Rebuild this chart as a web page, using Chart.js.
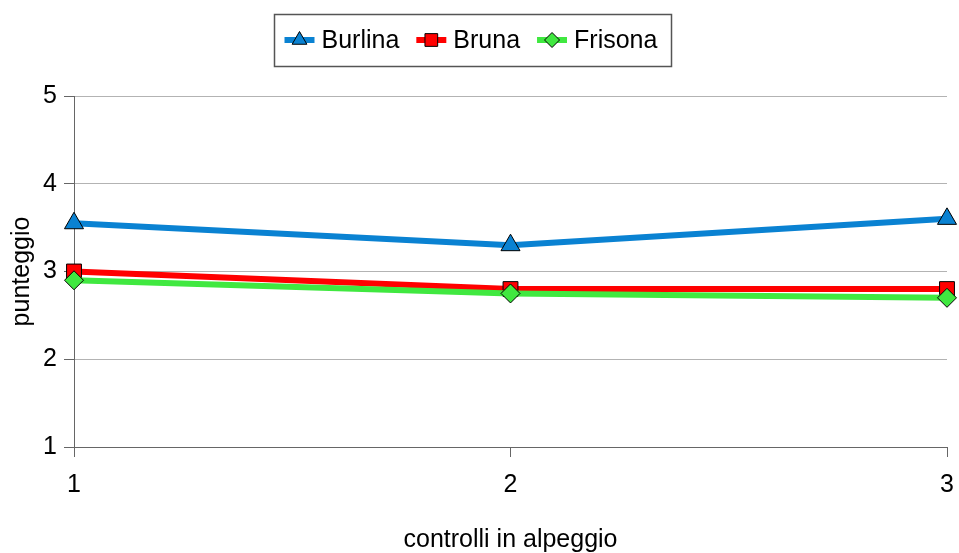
<!DOCTYPE html>
<html>
<head>
<meta charset="utf-8">
<script src="https://cdn.jsdelivr.net/npm/chart.js@4/dist/chart.umd.min.js"></script>
<style>
  html, body { margin: 0; padding: 0; background: #fff; }
  #wrap { width: 959px; height: 553px; }
</style>
</head>
<body>
<div id="wrap"><canvas id="chartPunteggi" width="959" height="553"></canvas></div>
<script>
const controlli = ['1', '2', '3']
const burlina = [3.55, 3.3, 3.6]
const bruna = [3.0, 2.8, 2.8]
const frisona = [2.9, 2.75, 2.7]
const yTicks = [1, 2, 3, 4, 5]

const FONT = '"Liberation Sans", Arial, sans-serif'

// legend drawn as a framed box with line + marker, like the office chart
const legendBox = {
    id: 'legendBox',
    afterDraw(chart) {
        const ctx = chart.ctx
        const lineLen = 30, gapText = 7, gapItem = 17, padL = 10, padR = 14
        const cy = 40, top = 14, h = 52, centerX = 472
        ctx.save()
        ctx.font = '25px ' + FONT
        const items = chart.data.datasets.map(ds => ({ ds, w: ctx.measureText(ds.label).width }))
        let total = padL + padR + gapItem * (items.length - 1)
        items.forEach(it => total += lineLen + gapText + it.w)
        const left = Math.round(centerX - total / 2) + 0.5

        ctx.strokeStyle = '#555'
        ctx.lineWidth = 1.5
        ctx.strokeRect(left, top + 0.5, Math.round(total), h)

        let x = left + padL
        items.forEach(it => {
            const ds = it.ds
            ctx.strokeStyle = ds.borderColor
            ctx.lineWidth = 6
            ctx.beginPath()
            ctx.moveTo(x, cy)
            ctx.lineTo(x + lineLen, cy)
            ctx.stroke()

            ctx.fillStyle = ds.pointBackgroundColor
            ctx.strokeStyle = '#000'
            ctx.lineWidth = 1
            Chart.helpers.drawPoint(ctx, {
                pointStyle: ds.pointStyle,
                radius: ds.legendRadius,
                rotation: 0,
                borderWidth: 1
            }, x + lineLen / 2, cy)

            ctx.fillStyle = '#000'
            ctx.textBaseline = 'middle'
            ctx.textAlign = 'left'
            ctx.fillText(ds.label, x + lineLen + gapText, cy + 1)
            x += lineLen + gapText + it.w + gapItem
        })
        ctx.restore()
    }
}

const serie = (label, data, color, style, radius, legendRadius, order) => ({
    label,
    data,
    order,
    borderColor: color,
    backgroundColor: color,
    borderWidth: 6,
    tension: 0,
    pointStyle: style,
    pointRadius: radius,
    pointHoverRadius: radius,
    pointBackgroundColor: color,
    pointBorderColor: '#000',
    pointBorderWidth: 1,
    legendRadius
})

const context = document.getElementById('chartPunteggi').getContext('2d')

const chartPunteggi = new Chart(context, {
    type: 'line',
    data: {
        labels: controlli,
        datasets: [
            serie('Burlina', burlina, '#0a82d2', 'triangle', 11, 8.5, 3),
            serie('Bruna', bruna, '#ff0000', 'rect', 10.5, 9, 2),
            serie('Frisona', frisona, '#40e840', 'rectRot', 9.5, 7.5, 1)
        ]
    },
    options: {
        responsive: false,
        animation: false,
        layout: { padding: { top: 96, left: 10, right: 1, bottom: 0 } },
        plugins: {
            legend: { display: false },
            tooltip: { enabled: false }
        },
        scales: {
            x: {
                type: 'category',
                offset: false,
                grid: {
                    drawOnChartArea: false,
                    tickLength: 10,
                    tickColor: '#666',
                    lineWidth: 1
                },
                border: { color: '#666', width: 1 },
                ticks: {
                    color: '#000',
                    padding: 13,
                    font: { family: FONT, size: 25 },
                    maxRotation: 0
                },
                title: {
                    display: true,
                    text: 'controlli in alpeggio',
                    color: '#000',
                    padding: { top: 0, bottom: 0 },
                    font: { family: FONT, size: 25, lineHeight: 1 }
                },
                afterFit: scale => {
                    scale.height = 106
                    scale.paddingRight = 11
                }
            },
            y: {
                min: 1,
                max: 5,
                afterBuildTicks: scale => { scale.ticks = yTicks.map(v => ({ value: v })) },
                grid: {
                    color: '#b3b3b3',
                    tickColor: '#666',
                    tickLength: 10,
                    lineWidth: 1
                },
                border: { color: '#666', width: 1 },
                ticks: {
                    color: '#000',
                    padding: 7,
                    font: { family: FONT, size: 25 }
                },
                title: {
                    display: true,
                    text: 'punteggio',
                    color: '#000',
                    padding: { top: 0, bottom: 0 },
                    font: { family: FONT, size: 25, lineHeight: 1 }
                },
                afterFit: scale => { scale.width = 64 }
            }
        }
    },
    plugins: [legendBox]
})
</script>
</body>
</html>
